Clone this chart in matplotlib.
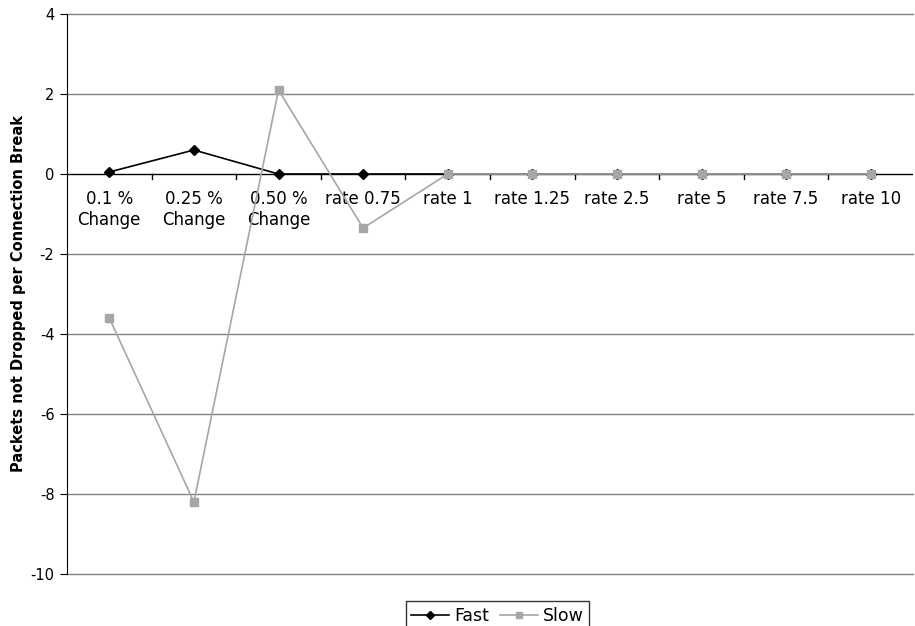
import matplotlib.pyplot as plt

categories = ["0.1 %\nChange", "0.25 %\nChange", "0.50 %\nChange", "rate 0.75",
              "rate 1", "rate 1.25", "rate 2.5", "rate 5", "rate 7.5", "rate 10"]
fast = [0.05, 0.6, 0.0, 0.0, 0.0, 0.0, 0.0, 0.0, 0.0, 0.0]
slow = [-3.6, -8.2, 2.1, -1.35, 0.0, 0.0, 0.0, 0.0, 0.0, 0.0]
y_ticks = [-10, -8, -6, -4, -2, 0, 2, 4]


def make_plot():
	plt.rcParams["font.family"] = "DejaVu Sans"
	plt.rcParams["axes.unicode_minus"] = False
	fig = plt.figure(figsize=(9.15, 6.26), dpi=100)
	ax = fig.add_axes([67 / 915, 1 - 574 / 626, (913 - 67) / 915, (574 - 14) / 626])

	xs = list(range(len(categories)))
	ax.set_xlim(-0.5, len(categories) - 0.5)
	ax.set_ylim(-10, 4)

	for y in y_ticks:
		if y != 0:
			ax.axhline(y, color="#808080", lw=1.0, zorder=1, clip_on=False)
	ax.axhline(0, color="black", lw=1.0, zorder=2)

	ax.plot(xs, fast, color="black", lw=1.2, marker="D", markersize=5, label="Fast", zorder=3)
	ax.plot(xs, slow, color="#a6a6a6", lw=1.2, marker="s", markersize=6, label="Slow", zorder=4)

	for side in ["top", "right", "bottom"]:
		ax.spines[side].set_visible(False)
	ax.spines["left"].set_color("black")

	ax.set_yticks(y_ticks)
	ax.tick_params(axis="y", labelsize=10.5, length=5, color="black", pad=4)
	ax.set_xticks([])

	# category ticks hang from the zero line
	for b in [i + 0.5 for i in range(len(categories) - 1)]:
		ax.plot([b, b], [0, -0.13], color="black", lw=1.0, zorder=2, clip_on=False)
	for x, lab in zip(xs, categories):
		ax.text(x, -0.4, lab, ha="center", va="top", fontsize=12, linespacing=1.2)

	ax.set_ylabel("Packets not Dropped per Connection Break", fontsize=10.5, fontweight="bold", labelpad=3.5)

	leg = fig.legend(loc="lower center", bbox_to_anchor=(0.544, -0.02), ncol=2, frameon=True,
	                 fontsize=12.5, handlelength=2.2, handletextpad=0.3, columnspacing=0.6,
	                 fancybox=False, borderpad=0.3, markerscale=0.8)
	leg.get_frame().set_edgecolor("black")
	leg.get_frame().set_linewidth(1.0)

	fig.savefig("out.png", dpi=100)


if __name__ == "__main__":
	make_plot()
